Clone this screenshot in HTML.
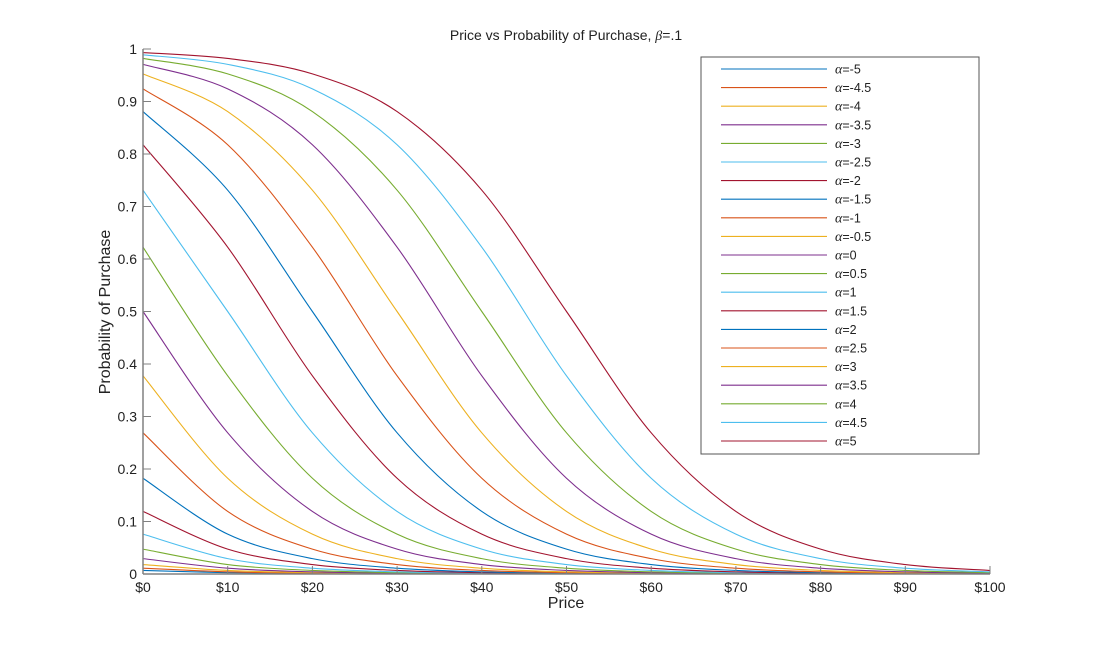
<!DOCTYPE html>
<html><head><meta charset="utf-8">
<style>
html,body{margin:0;padding:0;background:#fff;}
svg{display:block;font-family:"Liberation Sans",sans-serif;}
</style></head>
<body>
<svg id="chart" width="1094" height="646">
  <text x="566" y="40" text-anchor="middle" font-size="14" fill="#222">Price vs Probability of Purchase, <tspan font-family="Liberation Serif" font-style="italic">β</tspan>=.1</text>
  <g id="grid"></g>
  <g id="series"></g>
  <g id="axes"></g>
  <text x="566" y="608" text-anchor="middle" font-size="16" fill="#222">Price</text>
  <text transform="translate(110,312) rotate(-90)" text-anchor="middle" font-size="16" fill="#222">Probability of Purchase</text>
  <g id="legend"></g>
</svg>
<script>
const prices = [0,10,20,30,40,50,60,70,80,90,100];
const alphaLabels = ["-5","-4.5","-4","-3.5","-3","-2.5","-2","-1.5","-1","-0.5","0","0.5","1","1.5","2","2.5","3","3.5","4","4.5","5"];
const sAm5 = [.0067,.0025,.0009,.0003,.0001,0,0,0,0,0,0];
const sAm45 = [.0110,.0041,.0015,.0006,.0002,.0001,0,0,0,0,0];
const sAm4 = [.0180,.0067,.0025,.0009,.0003,.0001,0,0,0,0,0];
const sAm35 = [.0293,.0110,.0041,.0015,.0006,.0002,.0001,0,0,0,0];
const sAm3 = [.0474,.0180,.0067,.0025,.0009,.0003,.0001,0,0,0,0];
const sAm25 = [.0759,.0293,.0110,.0041,.0015,.0006,.0002,.0001,0,0,0];
const sAm2 = [.1192,.0474,.0180,.0067,.0025,.0009,.0003,.0001,0,0,0];
const sAm15 = [.1824,.0759,.0293,.0110,.0041,.0015,.0006,.0002,.0001,0,0];
const sAm1 = [.2689,.1192,.0474,.0180,.0067,.0025,.0009,.0003,.0001,0,0];
const sAm05 = [.3775,.1824,.0759,.0293,.0110,.0041,.0015,.0006,.0002,.0001,0];
const sA0 = [.5,.2689,.1192,.0474,.0180,.0067,.0025,.0009,.0003,.0001,0];
const sA05 = [.6225,.3775,.1824,.0759,.0293,.0110,.0041,.0015,.0006,.0002,.0001];
const sA1 = [.7311,.5,.2689,.1192,.0474,.0180,.0067,.0025,.0009,.0003,.0001];
const sA15 = [.8176,.6225,.3775,.1824,.0759,.0293,.0110,.0041,.0015,.0006,.0002];
const sA2 = [.8808,.7311,.5,.2689,.1192,.0474,.0180,.0067,.0025,.0009,.0003];
const sA25 = [.9241,.8176,.6225,.3775,.1824,.0759,.0293,.0110,.0041,.0015,.0006];
const sA3 = [.9526,.8808,.7311,.5,.2689,.1192,.0474,.0180,.0067,.0025,.0009];
const sA35 = [.9707,.9241,.8176,.6225,.3775,.1824,.0759,.0293,.0110,.0041,.0015];
const sA4 = [.9820,.9526,.8808,.7311,.5,.2689,.1192,.0474,.0180,.0067,.0025];
const sA45 = [.9890,.9707,.9241,.8176,.6225,.3775,.1824,.0759,.0293,.0110,.0041];
const sA5 = [.9933,.9820,.9526,.8808,.7311,.5,.2689,.1192,.0474,.0180,.0067];
const seriesValues = [sAm5,sAm45,sAm4,sAm35,sAm3,sAm25,sAm2,sAm15,sAm1,sAm05,sA0,sA05,sA1,sA15,sA2,sA25,sA3,sA35,sA4,sA45,sA5];
const xTickLabels = ["$0","$10","$20","$30","$40","$50","$60","$70","$80","$90","$100"];
const xTickValues = [0,10,20,30,40,50,60,70,80,90,100];
const yTickValues = [0,0.1,0.2,0.3,0.4,0.5,0.6,0.7,0.8,0.9,1];
const yTickLabels = ["0","0.1","0.2","0.3","0.4","0.5","0.6","0.7","0.8","0.9","1"];

const colors = ["#0072BD","#D95319","#EDB120","#7E2F8E","#77AC30","#4DBEEE","#A2142F"];
const X0=143,X1=990,Y0=574,Y1=49;
const xs = v => X0 + (v-0)/(100-0)*(X1-X0);
const ys = v => Y0 - (v-0)/(1-0)*(Y0-Y1);
const NS="http://www.w3.org/2000/svg";
const mk = (tag, attrs, parent) => { const e=document.createElementNS(NS,tag); for(const k in attrs) e.setAttribute(k,attrs[k]); parent.appendChild(e); return e; };

// series
const sg = document.getElementById('series');
seriesValues.forEach((vals,i)=>{
  const pts = prices.map((p,j)=>[xs(p), ys(vals[j])]);
  let d = `M${pts[0][0]},${pts[0][1]}`;
  for(let j=0;j<pts.length-1;j++){
    const p0=pts[Math.max(j-1,0)], p1=pts[j], p2=pts[j+1], p3=pts[Math.min(j+2,pts.length-1)];
    const c1=[p1[0]+(p2[0]-p0[0])/6, Math.min(Y0,p1[1]+(p2[1]-p0[1])/6)];
    const c2=[p2[0]-(p3[0]-p1[0])/6, Math.min(Y0,p2[1]-(p3[1]-p1[1])/6)];
    d += ` C${c1[0]},${c1[1]} ${c2[0]},${c2[1]} ${p2[0]},${p2[1]}`;
  }
  const path = mk('path',{d:d,fill:'none',stroke:colors[i%7],'stroke-width':1.1},sg);
  
  
});

// axes
const ag = document.getElementById('axes');
const xAxis = mk('line',{x1:X0,y1:Y0,x2:X1,y2:Y0,stroke:'#808080','stroke-width':1.5},ag);


const yAxis = mk('line',{x1:X0,y1:Y0,x2:X0,y2:Y1,stroke:'#808080','stroke-width':1.5},ag);


xTickValues.forEach((v,i)=>{
  mk('line',{x1:xs(v),y1:Y0,x2:xs(v),y2:Y0-8,stroke:'#808080','stroke-width':1},ag);
  const t = mk('text',{x:xs(v),y:Y0+18,'text-anchor':'middle','font-size':14,fill:'#222'},ag);
  t.textContent = xTickLabels[i];
  
  
});
yTickValues.forEach((v,i)=>{
  mk('line',{x1:X0,y1:ys(v),x2:X0+8,y2:ys(v),stroke:'#808080','stroke-width':1},ag);
  const t = mk('text',{x:X0-6,y:ys(v)+5,'text-anchor':'end','font-size':14,fill:'#222'},ag);
  t.textContent = yTickLabels[i];
  
  
});

// legend
const lg = document.getElementById('legend');
mk('rect',{x:701,y:57,width:278,height:397,fill:'#fff',stroke:'#555','stroke-width':1},lg);
alphaLabels.forEach((a,i)=>{
  const y = 69 + i*18.6;
  const entry = mk('g',{},lg);
  
  
  mk('line',{x1:721,y1:y,x2:827,y2:y,stroke:colors[i%7],'stroke-width':1.1},entry);
  const t = mk('text',{x:835,y:y+4.5,'font-size':12.5,fill:'#222'},entry);
  const sp = mk('tspan',{'font-family':'Liberation Serif','font-style':'italic','font-size':14},t);
  sp.textContent='α';
  const sp2 = mk('tspan',{},t);
  sp2.textContent='='+a;
});
</script>
</body></html>
